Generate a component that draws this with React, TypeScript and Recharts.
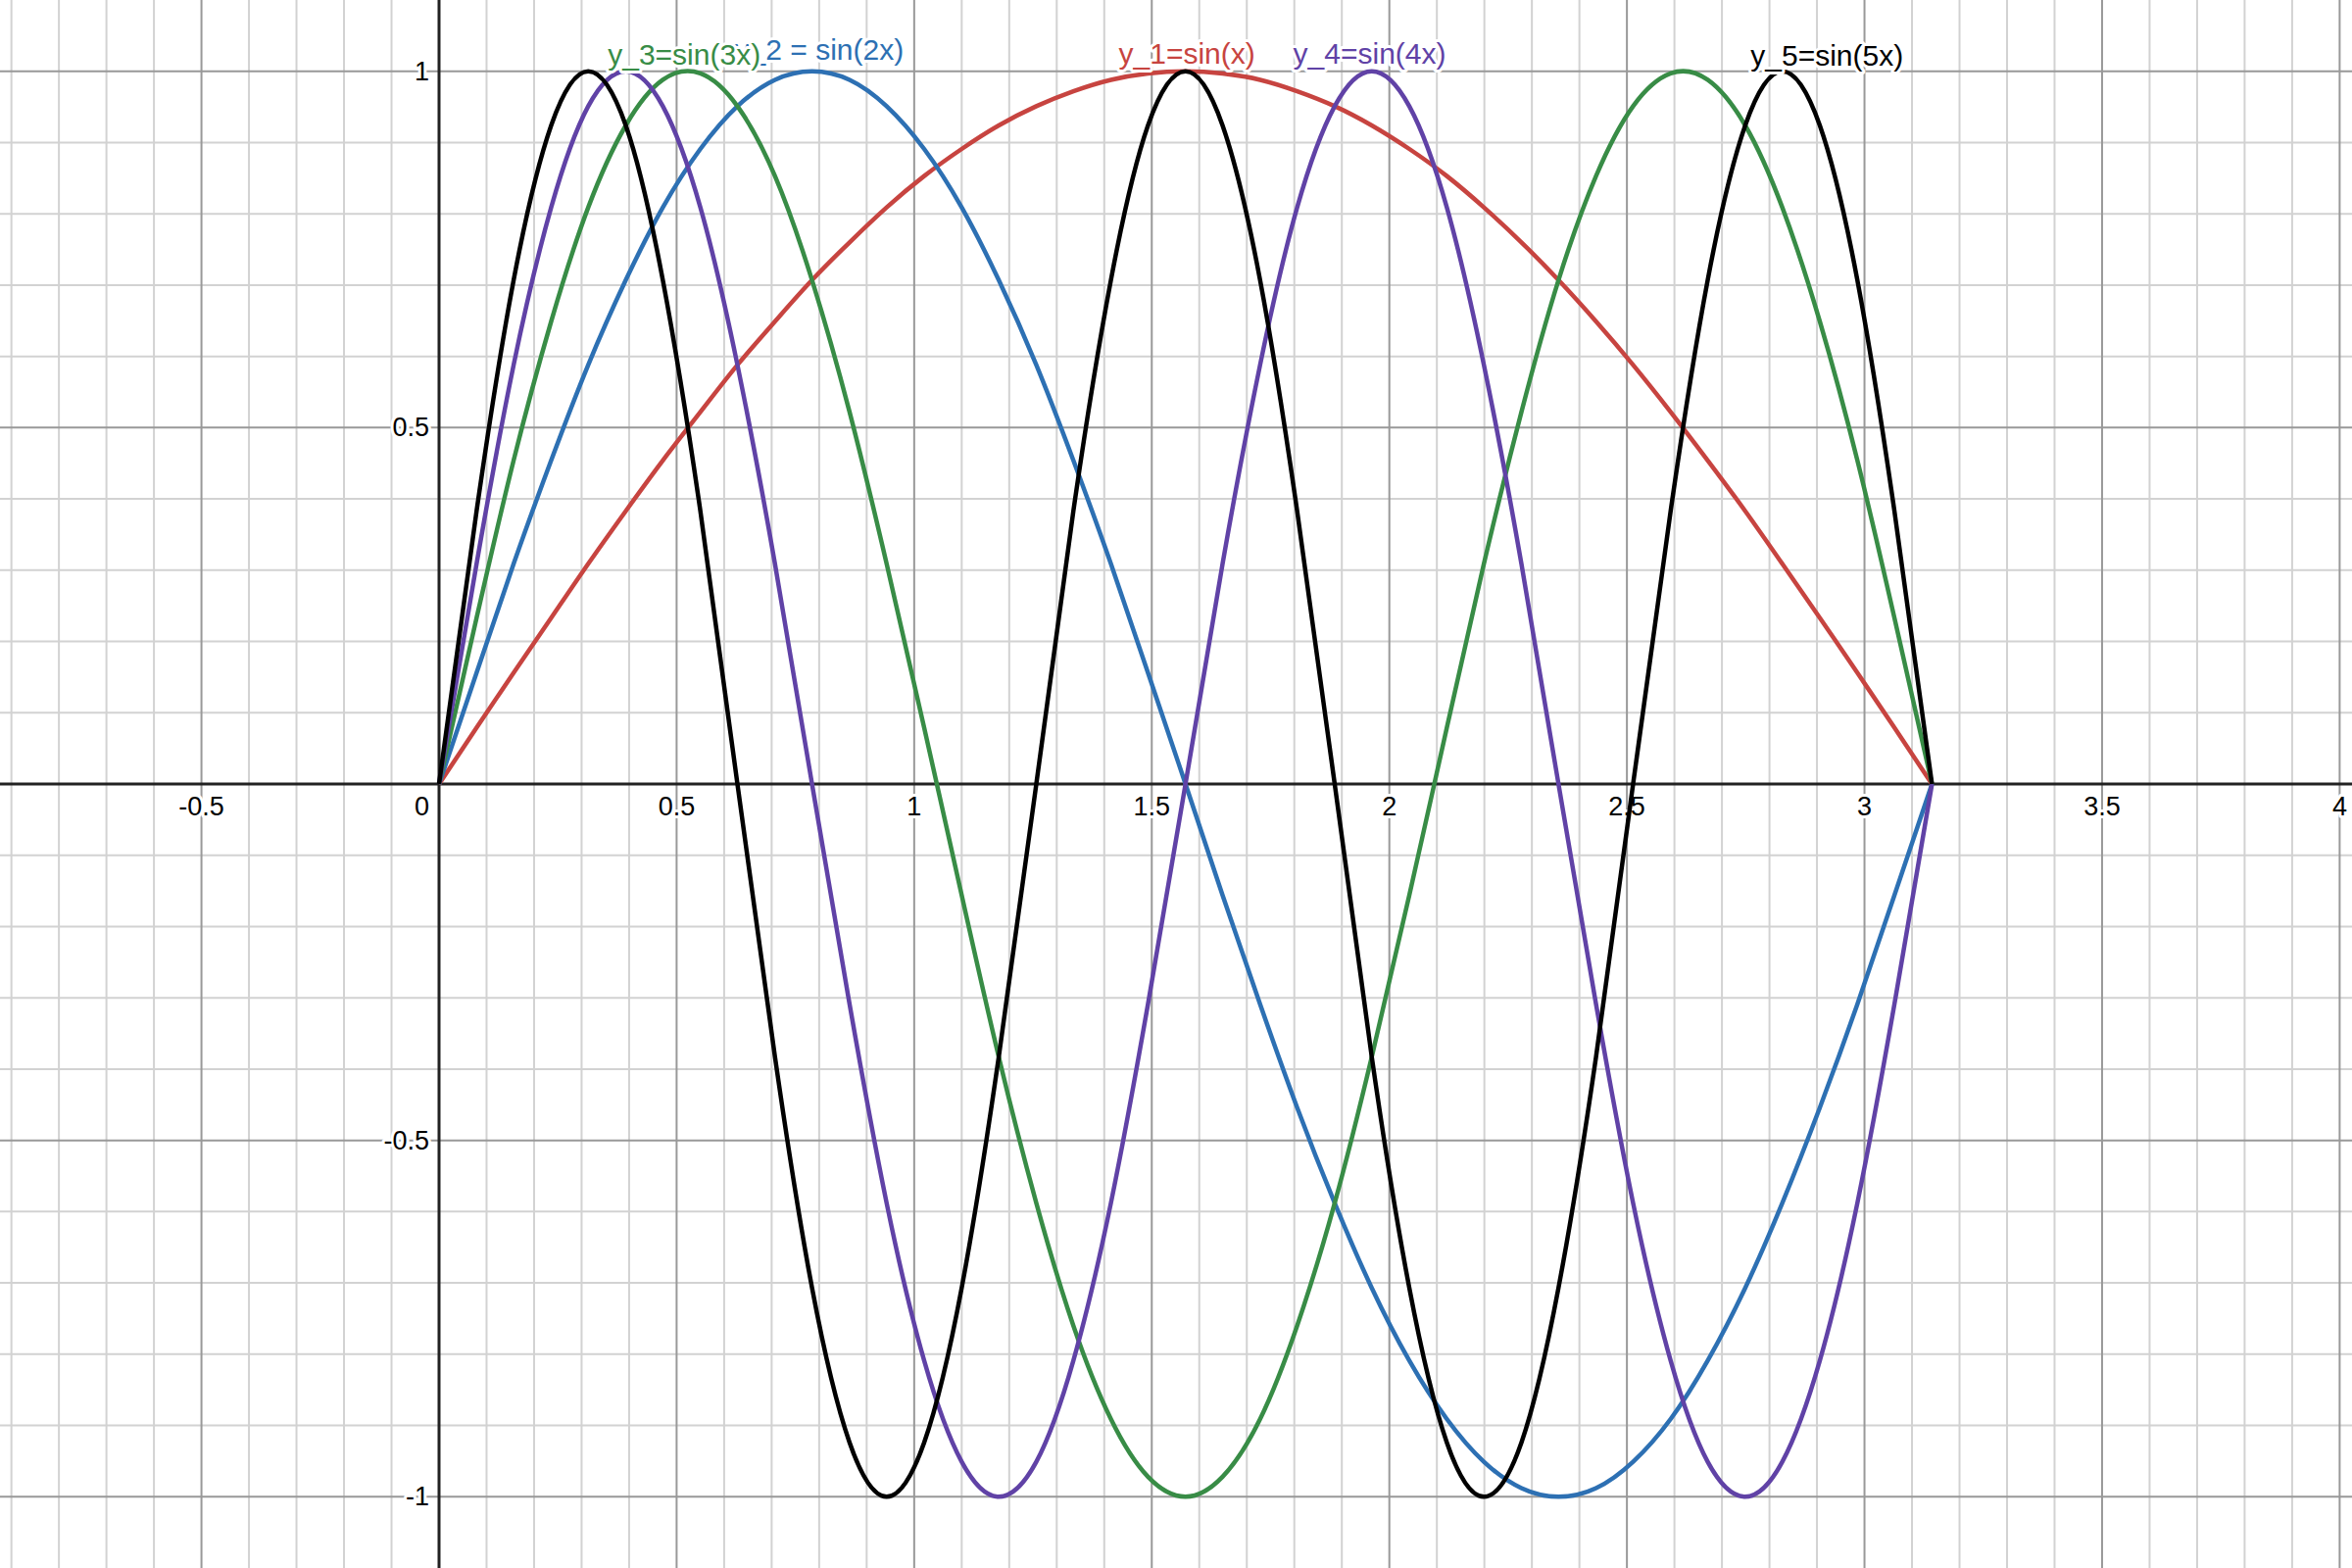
import React from "react";
import { LineChart, Line, XAxis, YAxis, ReferenceLine, ReferenceDot } from "recharts";

// x samples (0 .. pi)
const xs = [0, 0.079, 0.157, 0.236, 0.314, 0.393, 0.471, 0.55, 0.628, 0.707, 0.785, 0.864, 0.942, 1.021, 1.1, 1.178, 1.257, 1.335, 1.414, 1.492, 1.571, 1.649, 1.728, 1.806, 1.885, 1.963, 2.042, 2.121, 2.199, 2.278, 2.356, 2.435, 2.513, 2.592, 2.67, 2.749, 2.827, 2.906, 2.985, 3.063, 3.142];

const y1 = [0, 0.079, 0.156, 0.233, 0.309, 0.383, 0.454, 0.522, 0.588, 0.649, 0.707, 0.76, 0.809, 0.853, 0.891, 0.924, 0.951, 0.972, 0.988, 0.997, 1, 0.997, 0.988, 0.972, 0.951, 0.924, 0.891, 0.853, 0.809, 0.76, 0.707, 0.649, 0.588, 0.522, 0.454, 0.383, 0.309, 0.233, 0.156, 0.079, 0];
const y2 = [0, 0.156, 0.309, 0.454, 0.588, 0.707, 0.809, 0.891, 0.951, 0.988, 1, 0.988, 0.951, 0.891, 0.809, 0.707, 0.588, 0.454, 0.309, 0.156, 0, -0.156, -0.309, -0.454, -0.588, -0.707, -0.809, -0.891, -0.951, -0.988, -1, -0.988, -0.951, -0.891, -0.809, -0.707, -0.588, -0.454, -0.309, -0.156, 0];
const y3 = [0, 0.233, 0.454, 0.649, 0.809, 0.924, 0.988, 0.997, 0.951, 0.853, 0.707, 0.522, 0.309, 0.079, -0.156, -0.383, -0.588, -0.76, -0.891, -0.972, -1, -0.972, -0.891, -0.76, -0.588, -0.383, -0.156, 0.079, 0.309, 0.522, 0.707, 0.853, 0.951, 0.997, 0.988, 0.924, 0.809, 0.649, 0.454, 0.233, 0];
const y4 = [0, 0.309, 0.588, 0.809, 0.951, 1, 0.951, 0.809, 0.588, 0.309, 0, -0.309, -0.588, -0.809, -0.951, -1, -0.951, -0.809, -0.588, -0.309, 0, 0.309, 0.588, 0.809, 0.951, 1, 0.951, 0.809, 0.588, 0.309, 0, -0.309, -0.588, -0.809, -0.951, -1, -0.951, -0.809, -0.588, -0.309, 0];
const y5 = [0, 0.383, 0.707, 0.924, 1, 0.924, 0.707, 0.383, 0, -0.383, -0.707, -0.924, -1, -0.924, -0.707, -0.383, 0, 0.383, 0.707, 0.924, 1, 0.924, 0.707, 0.383, 0, -0.383, -0.707, -0.924, -1, -0.924, -0.707, -0.383, 0, 0.383, 0.707, 0.924, 1, 0.924, 0.707, 0.383, 0];

const seriesKeys = ["y1", "y2", "y3", "y4", "y5"];
const seriesColors = ["#c74440", "#2d70b3", "#388c46", "#6042a6", "#000000"];

// curve labels: text, anchor x (data), anchor y (data)
const labelTexts = ["y_2 = sin(2x)", "y_3=sin(3x)", "y_1=sin(x)", "y_4=sin(4x)", "y_5=sin(5x)"];
const labelX = [0.8, 0.516, 1.574, 1.9585, 2.921];
const labelColorIdx = [1, 2, 0, 3, 4];
const labelDy = [-12, -7, -8, -8, -6];

// ticks
const xTickValues = [-0.5, 0, 0.5, 1, 1.5, 2, 2.5, 3, 3.5, 4];
const xTickLabels = ["-0.5", "0", "0.5", "1", "1.5", "2", "2.5", "3", "3.5", "4"];
const yTickValues = [-1, -0.5, 0.5, 1];
const yTickLabels = ["-1", "-0.5", "0.5", "1"];

const xMajor = [-0.5, 0.5, 1, 1.5, 2, 2.5, 3, 3.5, 4];
const xMinor = [-0.9, -0.8, -0.7, -0.6, -0.4, -0.3, -0.2, -0.1, 0.1, 0.2, 0.3, 0.4, 0.6, 0.7, 0.8, 0.9, 1.1, 1.2, 1.3, 1.4, 1.6, 1.7, 1.8, 1.9, 2.1, 2.2, 2.3, 2.4, 2.6, 2.7, 2.8, 2.9, 3.1, 3.2, 3.3, 3.4, 3.6, 3.7, 3.8, 3.9];
const yMajor = [-1, -0.5, 0.5, 1];
const yMinor = [-0.9, -0.8, -0.7, -0.6, -0.4, -0.3, -0.2, -0.1, 0.1, 0.2, 0.3, 0.4, 0.6, 0.7, 0.8, 0.9];

const data = xs.map((x, i) => ({ x, y1: y1[i], y2: y2[i], y3: y3[i], y4: y4[i], y5: y5[i] }));

const FONT = '"Liberation Sans", Arial, Helvetica, sans-serif';
const halo: React.CSSProperties = { paintOrder: "stroke" };

export default function App() {
  return (
    <div style={{ position: "absolute", left: 0, top: 0, width: 2400, height: 1600, background: "#fff", overflow: "hidden" }}>
      <LineChart width={2400} height={1600} data={data} margin={{ top: 0, right: 0, bottom: 0, left: 0 }}>
        <XAxis type="number" dataKey="x" domain={[-0.924, 4.026]} hide allowDataOverflow />
        <YAxis type="number" domain={[-1.1, 1.1]} hide allowDataOverflow />
        {xMinor.map((v) => (
          <ReferenceLine key={"xm" + v} x={v} stroke="#d2d2d2" strokeWidth={2} zIndex={-100} />
        ))}
        {yMinor.map((v) => (
          <ReferenceLine key={"ym" + v} y={v} stroke="#d2d2d2" strokeWidth={2} zIndex={-100} />
        ))}
        {xMajor.map((v) => (
          <ReferenceLine key={"xM" + v} x={v} stroke="#999" strokeWidth={2} zIndex={-90} />
        ))}
        {yMajor.map((v) => (
          <ReferenceLine key={"yM" + v} y={v} stroke="#999" strokeWidth={2} zIndex={-90} />
        ))}
        <ReferenceLine x={0} stroke="#222" strokeWidth={3} zIndex={-80} />
        <ReferenceLine y={0} stroke="#222" strokeWidth={3} zIndex={-80} />
        {xTickValues.map((v, i) => (
          <ReferenceDot
            key={"xt" + v}
            x={v}
            y={0}
            r={0}
            zIndex={-70}
            shape={(p: any) => (
              <text
                x={v === 0 ? p.cx - 10 : p.cx}
                y={p.cy + 32}
                textAnchor={v === 0 ? "end" : "middle"}
                fontFamily={FONT}
                fontSize={27}
                fill="#000"
                stroke="#fff"
                strokeWidth={6}
                strokeLinejoin="round"
                style={halo}
              >
                {xTickLabels[i]}
              </text>
            )}
          />
        ))}
        {yTickValues.map((v, i) => (
          <ReferenceDot
            key={"yt" + v}
            x={0}
            y={v}
            r={0}
            zIndex={-70}
            shape={(p: any) => (
              <text
                x={p.cx - 10}
                y={p.cy + 9}
                textAnchor="end"
                fontFamily={FONT}
                fontSize={27}
                fill="#000"
                stroke="#fff"
                strokeWidth={6}
                strokeLinejoin="round"
                style={halo}
              >
                {yTickLabels[i]}
              </text>
            )}
          />
        ))}
        {seriesKeys.map((k, i) => (
          <Line
            key={k}
            type="natural"
            dataKey={k}
            stroke={seriesColors[i]}
            strokeWidth={4.5}
            dot={false}
            activeDot={false}
            isAnimationActive={false}
          />
        ))}
        {labelTexts.map((t, i) => (
          <ReferenceDot
            key={"lab" + i}
            x={labelX[i]}
            y={1}
            r={0}
            zIndex={3000}
            shape={(p: any) => (
              <text
                x={p.cx}
                y={p.cy + labelDy[i]}
                textAnchor="middle"
                fontFamily={FONT}
                fontSize={30}
                fill={seriesColors[labelColorIdx[i]]}
                stroke="#fff"
                strokeWidth={6}
                strokeLinejoin="round"
                style={halo}
              >
                {t}
              </text>
            )}
          />
        ))}
      </LineChart>
    </div>
  );
}
